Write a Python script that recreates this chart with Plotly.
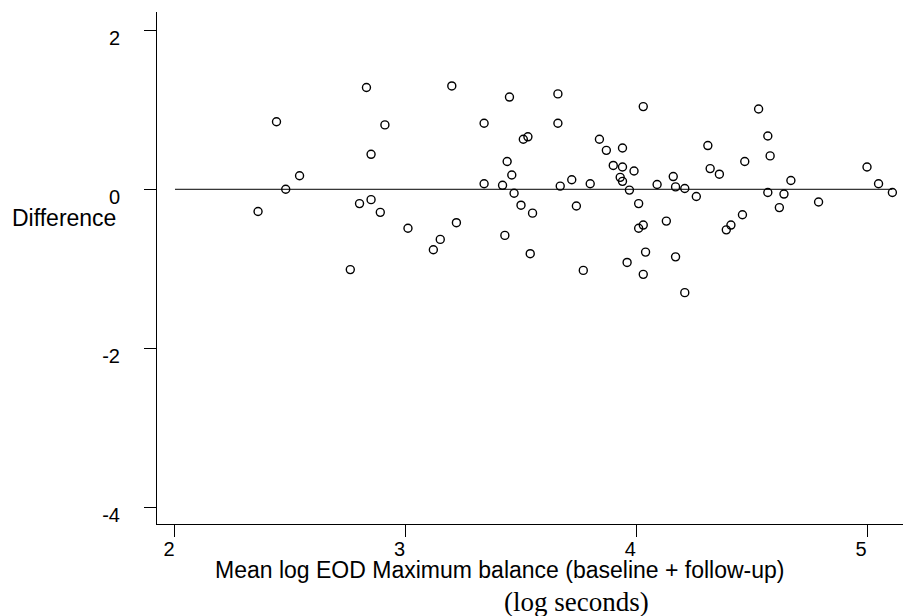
import plotly.graph_objects as go

# Bland-Altman style plot: mean of baseline and follow-up vs their difference
mean_log = [
    2.83, 2.44, 2.91, 2.85, 2.54, 2.48, 2.80, 2.85, 2.36, 2.89, 2.76,
    3.20, 3.45, 3.66, 3.34, 3.66, 3.51, 3.53, 3.44, 3.46, 3.34, 3.42, 3.72,
    3.67, 3.80, 3.47, 3.50, 3.55, 3.74, 3.01, 3.22, 3.15, 3.12, 3.43, 3.54, 3.77,
    4.03, 4.53, 3.84, 3.87, 3.94, 3.90, 3.94, 3.99, 3.93, 3.94, 3.97, 4.09,
    4.16, 4.17, 4.21, 4.31, 4.32, 4.36, 4.47, 4.57, 4.58, 4.57, 4.62, 4.26,
    4.01, 4.13, 4.01, 4.03, 4.46, 4.39, 4.41, 4.04, 3.96, 4.17, 4.03, 4.21,
    4.64, 4.67, 4.79, 5.00, 5.05, 5.11,
]
difference = [
    1.28, 0.85, 0.81, 0.44, 0.17, 0.00, -0.18, -0.13, -0.28, -0.29, -1.01,
    1.30, 1.16, 1.20, 0.83, 0.83, 0.63, 0.66, 0.35, 0.18, 0.07, 0.05, 0.12,
    0.04, 0.07, -0.05, -0.20, -0.30, -0.21, -0.49, -0.42, -0.63, -0.76, -0.58, -0.81, -1.02,
    1.04, 1.01, 0.63, 0.49, 0.52, 0.30, 0.28, 0.23, 0.15, 0.10, -0.01, 0.06,
    0.16, 0.03, 0.01, 0.55, 0.26, 0.19, 0.35, 0.67, 0.42, -0.04, -0.23, -0.09,
    -0.18, -0.40, -0.49, -0.45, -0.32, -0.51, -0.45, -0.79, -0.92, -0.85, -1.07, -1.30,
    -0.06, 0.11, -0.16, 0.28, 0.07, -0.04,
]

x_ticks = [2, 3, 4, 5]
y_ticks = [2, 0, -2, -4]

x_title = "Mean log EOD Maximum balance (baseline + follow-up)"
x_units = "(log seconds)"
y_title = "Difference"

SANS = "Liberation Sans, Arial, sans-serif"
SERIF = "Liberation Serif, Times New Roman, serif"

fig = go.Figure()

# reference line at zero difference
fig.add_trace(go.Scatter(
    x=[min(x_ticks), max(mean_log)], y=[0, 0],
    mode="lines", line=dict(color="black", width=1),
    hoverinfo="skip", showlegend=False,
))

fig.add_trace(go.Scatter(
    x=mean_log, y=difference, mode="markers",
    marker=dict(symbol="circle-open", size=8, color="black",
                line=dict(width=1.4, color="black")),
    showlegend=False,
))

fig.update_layout(
    width=903, height=616,
    margin=dict(l=157, r=0, t=12, b=92),
    paper_bgcolor="white", plot_bgcolor="white",
    font=dict(family=SANS, color="black"),
    xaxis=dict(
        range=[1.922, 5.156], tickvals=x_ticks, ticktext=[str(v) for v in x_ticks],
        showgrid=False, zeroline=False, showline=True, linecolor="black", linewidth=1,
        ticks="outside", ticklen=12, tickcolor="black", tickwidth=1,
        tickfont=dict(family=SANS, size=20), ticklabelshift=-6, ticklabelstandoff=-5,
    ),
    yaxis=dict(
        range=[-4.21, 2.23], tickvals=y_ticks, ticktext=[str(v) for v in y_ticks],
        showgrid=False, zeroline=False, showline=True, linecolor="black", linewidth=1,
        ticks="outside", ticklen=12, tickcolor="black", tickwidth=1,
        tickfont=dict(family=SANS, size=20), ticklabelshift=8, ticklabelstandoff=20,
    ),
    annotations=[
        dict(text=x_title, xref="paper", yref="paper", x=0.46, y=-0.09,
             xanchor="center", yanchor="middle", showarrow=False,
             font=dict(family=SANS, size=23)),
        dict(text=x_units, xref="paper", yref="paper", x=0.5617, y=-0.152,
             xanchor="center", yanchor="middle", showarrow=False,
             font=dict(family=SERIF, size=27)),
        dict(text=y_title, xref="paper", yref="paper", x=-0.0523, y=0.5977,
             xanchor="right", yanchor="middle", showarrow=False,
             font=dict(family=SANS, size=23)),
    ],
)

fig.write_html("out.html")
